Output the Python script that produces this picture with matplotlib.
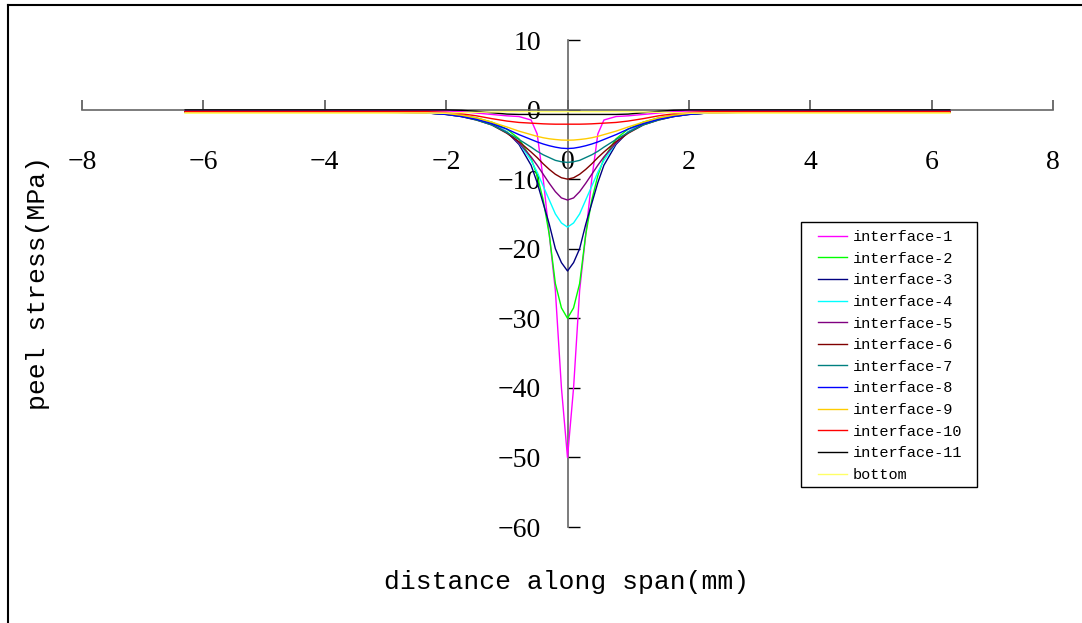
import matplotlib
matplotlib.use('Agg')
import matplotlib.pyplot as plt
from matplotlib.lines import Line2D
from matplotlib.patches import Rectangle

# positions along span (mm)
x_wide = [-6.3, -5.0, -4.0, -3.0, -2.3, -2.0, -1.75, -1.5, -1.25, -1.0, -0.8, -0.6, -0.5, -0.4, -0.3, -0.2, -0.1, 0.0,
          0.1, 0.2, 0.3, 0.4, 0.5, 0.6, 0.8, 1.0, 1.25, 1.5, 1.75, 2.0, 2.3, 3.0, 4.0, 5.0, 6.3]
x_narrow = [-2.3, -2.0, -1.75, -1.5, -1.25, -1.0, -0.8, -0.6, -0.5, -0.4, -0.3, -0.2, -0.1, 0.0,
            0.1, 0.2, 0.3, 0.4, 0.5, 0.6, 0.8, 1.0, 1.25, 1.5, 1.75, 2.0, 2.3]

# peel stress (MPa)
interface_1 = [-0.2, -0.2, -0.2, -0.2, -0.2, -0.2, -0.3, -0.5, -0.7, -0.9, -1.0, -1.5, -3.5, -10.0, -18.0, -26.0, -40.0, -50.0,
               -40.0, -26.0, -18.0, -10.0, -3.5, -1.5, -1.0, -0.9, -0.7, -0.5, -0.3, -0.2, -0.2, -0.2, -0.2, -0.2, -0.2]
interface_2 = [-0.3, -0.3, -0.3, -0.35, -0.45, -0.6, -0.8, -1.2, -1.8, -2.8, -4.2, -7.0, -9.5, -13.0, -18.0, -25.0, -28.5, -30.0,
               -28.5, -25.0, -18.0, -13.0, -9.5, -7.0, -4.2, -2.8, -1.8, -1.2, -0.8, -0.6, -0.45, -0.35, -0.3, -0.3, -0.3]
interface_3 = [-0.35, -0.35, -0.35, -0.4, -0.5, -0.65, -0.9, -1.3, -2.0, -3.2, -5.0, -8.0, -10.5, -13.5, -16.5, -20.0, -22.0, -23.2,
               -22.0, -20.0, -16.5, -13.5, -10.5, -8.0, -5.0, -3.2, -2.0, -1.3, -0.9, -0.65, -0.5, -0.4, -0.35, -0.35, -0.35]
interface_4 = [-0.4, -0.6, -0.9, -1.3, -2.0, -3.2, -4.8, -7.3, -9.0, -11.0, -13.0, -15.0, -16.3, -16.9,
               -16.3, -15.0, -13.0, -11.0, -9.0, -7.3, -4.8, -3.2, -2.0, -1.3, -0.9, -0.6, -0.4]
interface_5 = [-0.3, -0.3, -0.3, -0.35, -0.5, -0.65, -0.95, -1.4, -2.1, -3.3, -4.8, -6.8, -8.0, -9.3, -10.6, -11.8, -12.7, -13.0,
               -12.7, -11.8, -10.6, -9.3, -8.0, -6.8, -4.8, -3.3, -2.1, -1.4, -0.95, -0.65, -0.5, -0.35, -0.3, -0.3, -0.3]
interface_6 = [-0.3, -0.3, -0.3, -0.35, -0.5, -0.7, -1.0, -1.5, -2.2, -3.4, -4.6, -6.1, -6.9, -7.8, -8.6, -9.3, -9.8, -10.0,
               -9.8, -9.3, -8.6, -7.8, -6.9, -6.1, -4.6, -3.4, -2.2, -1.5, -1.0, -0.7, -0.5, -0.35, -0.3, -0.3, -0.3]
interface_7 = [-0.5, -0.7, -1.0, -1.5, -2.2, -3.3, -4.3, -5.4, -6.0, -6.5, -6.9, -7.3, -7.5, -7.6,
               -7.5, -7.3, -6.9, -6.5, -6.0, -5.4, -4.3, -3.3, -2.2, -1.5, -1.0, -0.7, -0.5]
interface_8 = [-0.5, -0.7, -1.0, -1.4, -2.0, -2.8, -3.6, -4.3, -4.65, -4.95, -5.2, -5.4, -5.55, -5.6,
               -5.55, -5.4, -5.2, -4.95, -4.65, -4.3, -3.6, -2.8, -2.0, -1.4, -1.0, -0.7, -0.5]
interface_9 = [-0.45, -0.45, -0.45, -0.45, -0.45, -0.55, -0.8, -1.2, -1.8, -2.5, -3.1, -3.6, -3.85, -4.05, -4.2, -4.3, -4.38, -4.4,
               -4.38, -4.3, -4.2, -4.05, -3.85, -3.6, -3.1, -2.5, -1.8, -1.2, -0.8, -0.55, -0.45, -0.45, -0.45, -0.45, -0.45]
interface_10 = [-0.3, -0.3, -0.3, -0.3, -0.3, -0.4, -0.6, -0.9, -1.3, -1.65, -1.85, -1.95, -2.0, -2.05, -2.08, -2.1, -2.1, -2.1,
                -2.1, -2.1, -2.08, -2.05, -2.0, -1.95, -1.85, -1.65, -1.3, -0.9, -0.6, -0.4, -0.3, -0.3, -0.3, -0.3, -0.3]
interface_11 = [-0.05, -0.05, -0.05, -0.05, -0.05, -0.05, -0.1, -0.25, -0.45, -0.65, -0.7, -0.7, -0.7, -0.7, -0.7, -0.7, -0.7, -0.7,
                -0.7, -0.7, -0.7, -0.7, -0.7, -0.7, -0.7, -0.65, -0.45, -0.25, -0.1, -0.05, -0.05, -0.05, -0.05, -0.05, -0.05]
bottom = [-0.5, -0.5, -0.5, -0.5, -0.5, -0.5, -0.45, -0.4, -0.35, -0.3, -0.3, -0.3, -0.3, -0.3, -0.3, -0.3, -0.3, -0.3,
          -0.3, -0.3, -0.3, -0.3, -0.3, -0.3, -0.3, -0.3, -0.35, -0.4, -0.45, -0.5, -0.5, -0.5, -0.5, -0.5, -0.5]

series = [
    ('interface-1', x_wide, interface_1, '#FF00FF'),
    ('interface-2', x_wide, interface_2, '#00FF00'),
    ('interface-3', x_wide, interface_3, '#000080'),
    ('interface-4', x_narrow, interface_4, '#00FFFF'),
    ('interface-5', x_wide, interface_5, '#800080'),
    ('interface-6', x_wide, interface_6, '#800000'),
    ('interface-7', x_narrow, interface_7, '#008080'),
    ('interface-8', x_narrow, interface_8, '#0000FF'),
    ('interface-9', x_wide, interface_9, '#FFCC00'),
    ('interface-10', x_wide, interface_10, '#FF0000'),
    ('interface-11', x_wide, interface_11, '#000000'),
    ('bottom', x_wide, bottom, '#FFFF66'),
]

x_ticks = [-8, -6, -4, -2, 0, 2, 4, 6, 8]
y_ticks = [-60, -50, -40, -30, -20, -10, 0, 10]

W, H = 1082, 623
fig = plt.figure(figsize=(W / 100, H / 100), dpi=100)
ax = fig.add_axes([82 / W, 1 - 527 / H, 971 / W, 487 / H])

for name, xs, ys, c in series:
    ax.plot(xs, ys, color=c, lw=1.0, label=name, zorder=3)

ax.set_xlim(-8, 8)
ax.set_ylim(-60, 10)

# axes cross at the origin
ax.spines['left'].set_position(('data', 0))
ax.spines['bottom'].set_position(('data', 0))
ax.spines['top'].set_visible(False)
ax.spines['right'].set_visible(False)
for s in ('left', 'bottom'):
    ax.spines[s].set_color('#666666')
    ax.spines[s].set_linewidth(1.2)

ax.set_xticks(x_ticks)
ax.set_yticks(y_ticks)
ax.tick_params(axis='x', direction='in', length=7.5, width=1.2, color='#555555', pad=29, labelsize=20)
ax.tick_params(axis='y', direction='in', length=8.5, width=1.0, color='#000000', pad=19, labelsize=20)
for lab in ax.get_xticklabels() + ax.get_yticklabels():
    lab.set_fontfamily('Liberation Serif')

fig.text(567 / W, 1 - 582 / H, 'distance along span(mm)', family='Liberation Mono',
         fontsize=19, ha='center', va='center')
fig.text(38 / W, 1 - 283 / H, 'peel stress(MPa)', family='Liberation Mono',
         fontsize=19, ha='center', va='center', rotation=90)

# legend box drawn as a plain rectangle, entries placed inside it
ax.add_patch(Rectangle((801 / W, 1 - 487 / H), 176 / W, 265 / H, transform=fig.transFigure,
                       facecolor='white', edgecolor='black', lw=1.0, zorder=5, clip_on=False))
leg = ax.legend(loc='upper left', bbox_to_anchor=(818 / W, 1 - 230 / H), bbox_transform=fig.transFigure,
                prop={'family': 'Liberation Mono', 'size': 11}, frameon=False,
                handlelength=1.9, handletextpad=0.4, labelspacing=0.5, borderpad=0,
                borderaxespad=0)
leg.set_zorder(6)

# chart frame along the top and left edges
fig.add_artist(Line2D([8 / W, 1], [1 - 5 / H, 1 - 5 / H], transform=fig.transFigure, color='black', lw=1.5))
fig.add_artist(Line2D([8 / W, 8 / W], [0, 1 - 5 / H], transform=fig.transFigure, color='black', lw=1.5))

fig.savefig('out.png', dpi=100)
